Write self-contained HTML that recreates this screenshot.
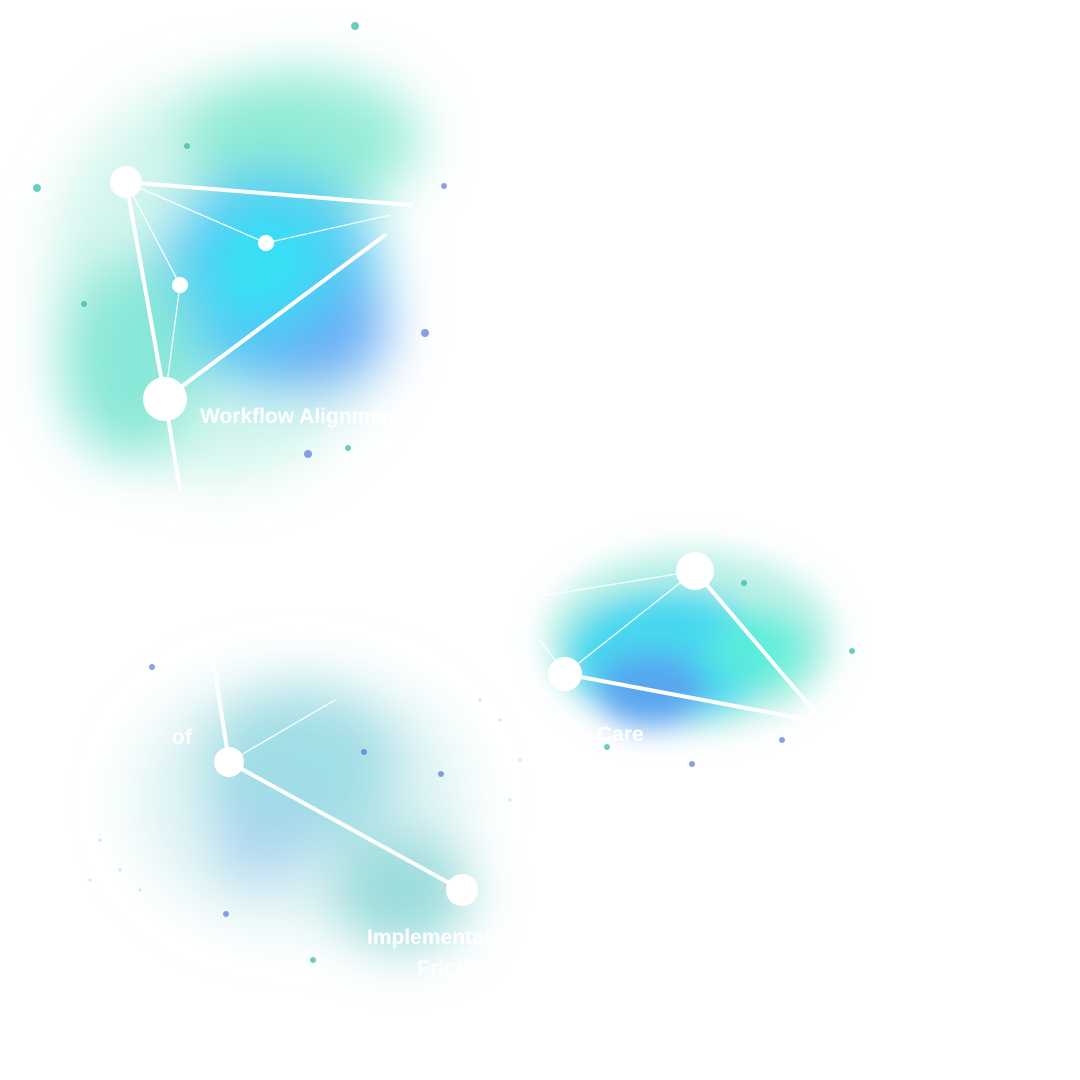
<!DOCTYPE html>
<html><head><meta charset="utf-8"><style>
html,body{margin:0;padding:0;background:#fff;}
svg{display:block}
text{font-family:"Liberation Sans",sans-serif;font-weight:bold;fill:#fff;font-size:21px}
</style></head><body>
<svg width="1080" height="1080" viewBox="0 0 1080 1080" xmlns="http://www.w3.org/2000/svg">
<defs>
<filter id="b1" x="-50%" y="-50%" width="200%" height="200%"><feGaussianBlur stdDeviation="26"/></filter>
<filter id="b2" x="-50%" y="-50%" width="200%" height="200%"><feGaussianBlur stdDeviation="15"/></filter>
</defs>
<!-- nebula 1 -->
<g filter="url(#b1)">
<ellipse cx="220" cy="280" rx="170" ry="200" fill="#c8f4ea" opacity="0.8"/>
<ellipse cx="300" cy="140" rx="120" ry="70" fill="#7fe8d0" opacity="0.8"/>
<ellipse cx="270" cy="280" rx="110" ry="110" fill="#4fc8f5"/>
<ellipse cx="130" cy="360" rx="70" ry="100" fill="#8ae8d8"/>
<ellipse cx="320" cy="330" rx="70" ry="60" fill="#6aa8f5" opacity="0.8"/>
<ellipse cx="270" cy="270" rx="60" ry="60" fill="#2ee8f5" opacity="0.8"/>
</g>
<!-- nebula 2 -->
<g filter="url(#b2)">
<ellipse cx="690" cy="640" rx="145" ry="90" fill="#b5f0e4" opacity="0.9"/>
<ellipse cx="670" cy="655" rx="105" ry="65" fill="#46d8f0"/>
<ellipse cx="650" cy="690" rx="55" ry="38" fill="#5aa0f0" opacity="0.9"/>
<ellipse cx="760" cy="650" rx="50" ry="40" fill="#5ef0d8" opacity="0.8"/>
</g>
<!-- nebula 3 -->
<g filter="url(#b1)">
<ellipse cx="300" cy="800" rx="170" ry="130" fill="#dff4f4" opacity="0.9"/>
<ellipse cx="300" cy="770" rx="100" ry="80" fill="#9adce3" opacity="0.9"/>
<ellipse cx="400" cy="890" rx="70" ry="60" fill="#9cdcdc"/>
<ellipse cx="260" cy="840" rx="50" ry="45" fill="#a8d2f0" opacity="0.8"/>
</g>
<!-- stars -->
<g fill="#2fb8a0" opacity="0.7">
<circle cx="37" cy="188" r="4"/><circle cx="355" cy="26" r="4"/><circle cx="187" cy="146" r="3"/>
<circle cx="84" cy="304" r="3"/><circle cx="348" cy="448" r="3"/><circle cx="744" cy="583" r="3"/>
<circle cx="852" cy="651" r="3"/><circle cx="607" cy="747" r="3"/><circle cx="313" cy="960" r="3"/>
</g>
<g fill="#4060d0" opacity="0.6">
<circle cx="425" cy="333" r="4"/><circle cx="308" cy="454" r="4"/><circle cx="444" cy="186" r="3"/>
<circle cx="692" cy="764" r="3"/><circle cx="782" cy="740" r="3"/><circle cx="152" cy="667" r="3"/>
<circle cx="441" cy="774" r="3"/><circle cx="226" cy="914" r="3"/><circle cx="364" cy="752" r="3"/>
</g>
<g fill="#8fd8e0" opacity="0.5">
<circle cx="100" cy="840" r="1.5"/><circle cx="120" cy="870" r="1.5"/><circle cx="90" cy="880" r="1.5"/>
<circle cx="140" cy="890" r="1.5"/><circle cx="500" cy="720" r="1.5"/><circle cx="520" cy="760" r="1.5"/>
<circle cx="480" cy="700" r="1.5"/><circle cx="510" cy="800" r="1.5"/>
</g>
<!-- lines -->
<g stroke="#fff" fill="none" stroke-linecap="round">
<line x1="126" y1="182" x2="410" y2="205" stroke-width="4"/>
<line x1="126" y1="182" x2="165" y2="399" stroke-width="4"/>
<line x1="165" y1="399" x2="385" y2="235" stroke-width="4"/>
<line x1="165" y1="399" x2="180" y2="490" stroke-width="4"/>
<line x1="126" y1="182" x2="266" y2="243" stroke-width="1.2"/>
<line x1="126" y1="182" x2="180" y2="285" stroke-width="1.2"/>
<line x1="180" y1="285" x2="165" y2="399" stroke-width="1.2"/>
<line x1="266" y1="243" x2="390" y2="215" stroke-width="1.2"/>
<line x1="695" y1="571" x2="820" y2="718" stroke-width="4"/>
<line x1="565" y1="674" x2="820" y2="722" stroke-width="4"/>
<line x1="565" y1="674" x2="695" y2="571" stroke-width="1.2"/>
<line x1="535" y1="597" x2="695" y2="571" stroke-width="1.2"/>
<line x1="540" y1="640" x2="565" y2="674" stroke-width="1.2"/>
<line x1="210" y1="640" x2="229" y2="762" stroke-width="4"/>
<line x1="229" y1="762" x2="462" y2="890" stroke-width="4"/>
<line x1="229" y1="762" x2="335" y2="700" stroke-width="1.2"/>
</g>
<g fill="#fff">
<circle cx="126" cy="182" r="16"/>
<circle cx="266" cy="243" r="8"/>
<circle cx="180" cy="285" r="8"/>
<circle cx="165" cy="399" r="22"/>
<circle cx="695" cy="571" r="19"/>
<circle cx="565" cy="674" r="17"/>
<circle cx="229" cy="762" r="15"/>
<circle cx="462" cy="890" r="16"/>
</g>
<text x="200" y="423">Workflow Alignment</text>
<text x="597" y="741">Care</text>
<text x="668" y="516">a</text>
<text x="172" y="744">of</text>
<text x="367" y="944">Implementation</text>
<text x="417" y="975">Friction</text>
</svg>
</body></html>
